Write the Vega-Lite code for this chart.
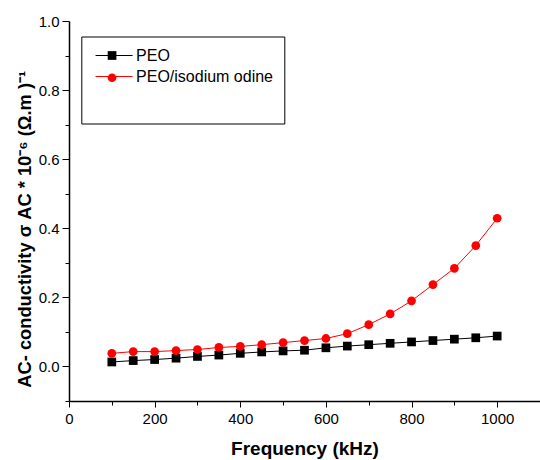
{
  "$schema": "https://vega.github.io/schema/vega-lite/v6.json",
  "width": 471,
  "height": 380,
  "autosize": {"type": "none"},
  "padding": {"left": 69, "top": 21, "right": 0, "bottom": 59},
  "background": "white",
  "config": {
    "view": {"stroke": null},
    "font": "Liberation Sans",
    "axis": {"grid": false, "domainColor": "black", "domainWidth": 1.5, "tickColor": "black", "tickWidth": 1, "labelColor": "black", "titleColor": "black", "labelFont": "Liberation Sans", "titleFont": "Liberation Sans", "labelFontSize": 15, "titleFontSize": 19, "titleFontWeight": "bold"}
  },
  "data": {
    "values": [
      {"freq": 100, "sigma": 0.013, "sample": "PEO"},
      {"freq": 150, "sigma": 0.017, "sample": "PEO"},
      {"freq": 200, "sigma": 0.020, "sample": "PEO"},
      {"freq": 250, "sigma": 0.024, "sample": "PEO"},
      {"freq": 300, "sigma": 0.029, "sample": "PEO"},
      {"freq": 350, "sigma": 0.033, "sample": "PEO"},
      {"freq": 400, "sigma": 0.038, "sample": "PEO"},
      {"freq": 450, "sigma": 0.042, "sample": "PEO"},
      {"freq": 500, "sigma": 0.045, "sample": "PEO"},
      {"freq": 550, "sigma": 0.047, "sample": "PEO"},
      {"freq": 600, "sigma": 0.054, "sample": "PEO"},
      {"freq": 650, "sigma": 0.059, "sample": "PEO"},
      {"freq": 700, "sigma": 0.063, "sample": "PEO"},
      {"freq": 750, "sigma": 0.067, "sample": "PEO"},
      {"freq": 800, "sigma": 0.071, "sample": "PEO"},
      {"freq": 850, "sigma": 0.075, "sample": "PEO"},
      {"freq": 900, "sigma": 0.079, "sample": "PEO"},
      {"freq": 950, "sigma": 0.083, "sample": "PEO"},
      {"freq": 1000, "sigma": 0.088, "sample": "PEO"},
      {"freq": 100, "sigma": 0.038, "sample": "PEO/isodium odine"},
      {"freq": 150, "sigma": 0.043, "sample": "PEO/isodium odine"},
      {"freq": 200, "sigma": 0.043, "sample": "PEO/isodium odine"},
      {"freq": 250, "sigma": 0.046, "sample": "PEO/isodium odine"},
      {"freq": 300, "sigma": 0.049, "sample": "PEO/isodium odine"},
      {"freq": 350, "sigma": 0.055, "sample": "PEO/isodium odine"},
      {"freq": 400, "sigma": 0.058, "sample": "PEO/isodium odine"},
      {"freq": 450, "sigma": 0.063, "sample": "PEO/isodium odine"},
      {"freq": 500, "sigma": 0.069, "sample": "PEO/isodium odine"},
      {"freq": 550, "sigma": 0.075, "sample": "PEO/isodium odine"},
      {"freq": 600, "sigma": 0.081, "sample": "PEO/isodium odine"},
      {"freq": 650, "sigma": 0.095, "sample": "PEO/isodium odine"},
      {"freq": 700, "sigma": 0.121, "sample": "PEO/isodium odine"},
      {"freq": 750, "sigma": 0.152, "sample": "PEO/isodium odine"},
      {"freq": 800, "sigma": 0.190, "sample": "PEO/isodium odine"},
      {"freq": 850, "sigma": 0.237, "sample": "PEO/isodium odine"},
      {"freq": 900, "sigma": 0.284, "sample": "PEO/isodium odine"},
      {"freq": 950, "sigma": 0.350, "sample": "PEO/isodium odine"},
      {"freq": 1000, "sigma": 0.429, "sample": "PEO/isodium odine"}
    ]
  },
  "encoding": {
    "x": {
      "field": "freq", "type": "quantitative",
      "scale": {"domain": [0, 1100], "nice": false, "zero": false},
      "axis": {
        "title": "Frequency (kHz)",
        "values": [0, 100, 200, 300, 400, 500, 600, 700, 800, 900, 1000],
        "labelExpr": "datum.value % 200 == 0 ? datum.label : ''",
        "format": "d",
        "labelPadding": 4,
        "labelFlush": false,
        "labelOverlap": false,
        "tickSize": {"condition": {"test": "datum.value % 200 == 0", "value": 6}, "value": 4},
        "titleY": 38
      }
    },
    "y": {
      "field": "sigma", "type": "quantitative",
      "scale": {"domain": [-0.1, 1.0], "nice": false, "zero": false},
      "axis": {
        "title": "AC- conductivity σ AC * 10⁻⁶ (Ω.m )⁻¹",
        "titleFontSize": 18.3,
        "values": [-0.1, 0, 0.1, 0.2, 0.3, 0.4, 0.5, 0.6, 0.7, 0.8, 0.9, 1.0],
        "labelExpr": "abs(round(datum.value*10)) % 2 == 0 ? format(datum.value, '.1f') : ''",
        "labelPadding": 3,
        "labelFlush": false,
        "labelOverlap": false,
        "tickSize": {"condition": {"test": "abs(round(datum.value*10)) % 2 == 0", "value": 7}, "value": 4},
        "titleX": -38.7,
        "titleY": 207.8,
        "titleAngle": 270,
        "titleBaseline": "alphabetic",
        "titleAlign": "center"
      }
    }
  },
  "layer": [
    {
      "mark": {"type": "line", "strokeWidth": 1},
      "encoding": {
        "color": {
          "field": "sample", "type": "nominal",
          "scale": {"domain": ["PEO", "PEO/isodium odine"], "range": ["#000000", "#ff0000"]},
          "legend": {
            "orient": "none", "legendX": 12.3, "legendY": 15.5,
            "title": " ", "titleOrient": "bottom", "titleFontSize": 24, "titlePadding": 4,
            "padding": 11, "strokeColor": "black", "fillColor": "white",
            "symbolType": "M-4,0H4", "symbolSize": 85.6, "symbolStrokeWidth": 1, "symbolOffset": 13.75,
            "labelFont": "Liberation Sans", "labelFontSize": 16, "labelColor": "black", "labelOffset": 14,
            "rowPadding": 5
          }
        }
      }
    },
    {
      "mark": {"type": "point", "filled": true, "size": 76, "opacity": 1},
      "encoding": {
        "color": {
          "field": "sample", "type": "nominal",
          "legend": {
            "orient": "none", "legendX": 12.3, "legendY": 15.5,
            "title": null,
            "padding": 11,
            "symbolSize": 76, "symbolStrokeWidth": 0, "symbolOpacity": 1, "symbolOffset": 11.75,
            "labelFont": "Liberation Sans", "labelFontSize": 16, "labelExpr": "''", "labelOffset": 4,
            "rowPadding": 6.25
          }
        },
        "shape": {
          "field": "sample", "type": "nominal",
          "scale": {"domain": ["PEO", "PEO/isodium odine"], "range": ["square", "circle"]},
          "legend": {
            "orient": "none", "legendX": 12.3, "legendY": 15.5,
            "title": null,
            "padding": 11,
            "symbolSize": 76, "symbolStrokeWidth": 0, "symbolOpacity": 1, "symbolOffset": 11.75,
            "labelFont": "Liberation Sans", "labelFontSize": 16, "labelExpr": "''", "labelOffset": 4,
            "rowPadding": 6.25
          }
        }
      }
    }
  ],
  "resolve": {"legend": {"color": "independent", "shape": "independent"}}
}
